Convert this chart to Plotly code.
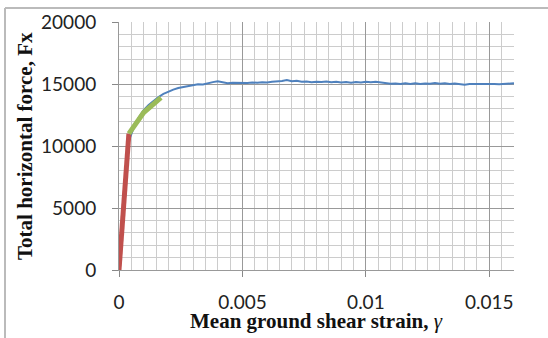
import plotly.graph_objects as go

# Blue: full response curve
strain_blue = [0.00045, 0.0006, 0.0008, 0.001, 0.0012, 0.0014, 0.0016, 0.0018, 0.002, 0.0022,
               0.0024, 0.0026, 0.0028, 0.003, 0.0032, 0.0034, 0.0036, 0.0038, 0.004, 0.0042,
               0.0044, 0.0046, 0.0048, 0.005, 0.0052, 0.0054, 0.0056, 0.0058, 0.006, 0.0062,
               0.0064, 0.0066, 0.0068, 0.007, 0.0072, 0.0074, 0.0076, 0.0078, 0.008, 0.0082,
               0.0084, 0.0086, 0.0088, 0.009, 0.0092, 0.0094, 0.0096, 0.0098, 0.01, 0.0102,
               0.0104, 0.0106, 0.0108, 0.011, 0.0112, 0.0114, 0.0116, 0.0118, 0.012, 0.0122,
               0.0124, 0.0126, 0.0128, 0.013, 0.0132, 0.0134, 0.0136, 0.0138, 0.014, 0.0142,
               0.0144, 0.0146, 0.0148, 0.015, 0.0152, 0.0154, 0.0156, 0.0158, 0.016]
force_blue = [10700, 11500, 12300, 12900, 13300, 13650, 13950, 14200, 14400, 14550,
              14680, 14750, 14850, 14950, 14980, 14960, 15080, 15150, 15230, 15180,
              15070, 15100, 15080, 15120, 15090, 15130, 15100, 15150, 15120, 15180,
              15200, 15250, 15320, 15220, 15260, 15180, 15200, 15140, 15190, 15160,
              15210, 15150, 15190, 15130, 15170, 15110, 15160, 15120, 15180, 15140,
              15190, 15120, 15060, 15020, 15040, 15000, 15050, 15010, 15060, 15000,
              15040, 15020, 15070, 15030, 15060, 15000, 15040, 14980, 14950, 14990,
              15000, 14970, 15010, 14990, 15000, 14980, 15020, 15030, 15060]

# Red: initial elastic branch
strain_red = [0.0, 0.0002, 0.0004]
force_red = [0, 5800, 11000]

# Green: secondary branch
strain_green = [0.0004, 0.001, 0.0017]
force_green = [11000, 12700, 13900]

x_title = "<b>Mean ground shear strain, </b><i>γ</i>"
y_title = "<b>Total horizontal force, Fx</b>"

fig = go.Figure()
fig.add_trace(go.Scatter(x=strain_blue, y=force_blue, mode="lines",
                         line=dict(color="#4f81bd", width=2)))
fig.add_trace(go.Scatter(x=strain_red, y=force_red, mode="lines",
                         line=dict(color="#c0504d", width=5)))
fig.add_trace(go.Scatter(x=strain_green, y=force_green, mode="lines",
                         line=dict(color="#9bbb59", width=5)))

tickfont = dict(family="Lato", size=19, color="#222")
titlefont = dict(family="Liberation Serif", size=21, color="#111")

fig.update_layout(
    width=548, height=338,
    margin=dict(l=119, r=34, t=22, b=68),
    paper_bgcolor="white", plot_bgcolor="white",
    showlegend=False,
    xaxis=dict(range=[0, 0.016], dtick=0.005, tick0=0, showgrid=True,
               gridcolor="#999999", gridwidth=1,
               minor=dict(dtick=0.0005, showgrid=True, gridcolor="#cccccc", gridwidth=1),
               ticks="outside", ticklen=6, tickcolor="#888", ticklabelstandoff=9,
               tickfont=tickfont, zeroline=False,
               showline=True, linecolor="#999999", automargin=False),
    yaxis=dict(range=[0, 20000], dtick=5000, tick0=0, tickformat="d", showgrid=True,
               gridcolor="#999999", gridwidth=1,
               minor=dict(dtick=1000, showgrid=True, gridcolor="#cccccc", gridwidth=1),
               ticks="outside", ticklen=6, tickcolor="#888", ticklabelstandoff=12,
               tickfont=tickfont, zeroline=False,
               showline=True, linecolor="#999999", automargin=False),
    annotations=[
        dict(text=x_title, xref="paper", yref="paper", x=0.5, y=0, xanchor="center",
             yanchor="middle", yshift=-51, showarrow=False, font=titlefont),
        dict(text=y_title, xref="paper", yref="paper", x=0, y=0.5, xanchor="center",
             yanchor="middle", xshift=-94, textangle=-90, showarrow=False, font=titlefont),
    ],
)

# outer chart frame (left and top edges)
fig.add_shape(type="line", xref="paper", yref="paper", x0=-0.2886, x1=1.1, y0=1.0565, y1=1.0565,
              line=dict(color="#bbbbbb", width=2))
fig.add_shape(type="line", xref="paper", yref="paper", x0=-0.2886, x1=-0.2886, y0=-0.3, y1=1.0565,
              line=dict(color="#bbbbbb", width=2))

fig.write_html("out.html")
